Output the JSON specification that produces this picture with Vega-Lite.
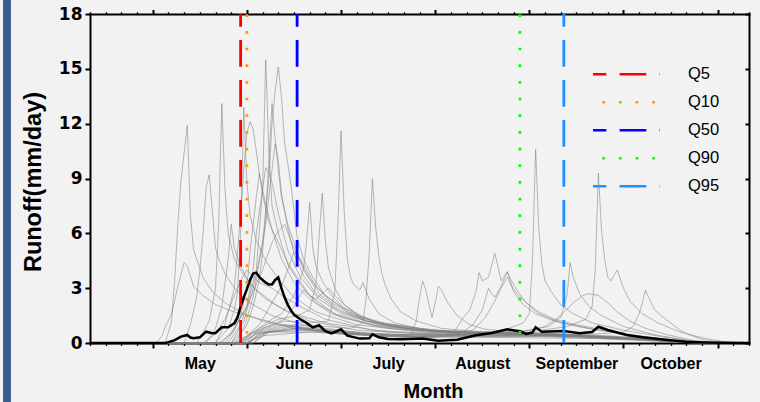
{
  "$schema": "https://vega.github.io/schema/vega-lite/v6.json",
  "width": 659,
  "height": 329,
  "autosize": {"type": "none"},
  "padding": {"left": 90, "right": 11, "top": 14, "bottom": 59},
  "background": "#f2f2f2",
  "config": {"view": {"stroke": null}, "axis": {"grid": false}},
  "datasets": {
    "runs": [
      {"member":1,"day":100,"runoff":0},{"member":1,"day":124,"runoff":0},{"member":1,"day":125,"runoff":0.6},{"member":1,"day":126,"runoff":1.2},{"member":1,"day":127,"runoff":3.5},{"member":1,"day":128,"runoff":6.5},{"member":1,"day":129,"runoff":8.9},{"member":1,"day":130,"runoff":10.4},{"member":1,"day":131,"runoff":11.9},{"member":1,"day":132,"runoff":7},{"member":1,"day":133,"runoff":5.1},{"member":1,"day":134,"runoff":4.6},{"member":1,"day":136,"runoff":3.6},{"member":1,"day":139,"runoff":2.8},{"member":1,"day":143,"runoff":2.2},{"member":1,"day":148,"runoff":1.7},{"member":1,"day":155,"runoff":1.2},{"member":1,"day":165,"runoff":0.8},{"member":1,"day":180,"runoff":0.5},{"member":1,"day":200,"runoff":0.35},{"member":1,"day":230,"runoff":0.3},{"member":1,"day":260,"runoff":0.25},{"member":1,"day":280,"runoff":0.12},{"member":1,"day":292,"runoff":0},{"member":1,"day":310,"runoff":0},
      {"member":2,"day":100,"runoff":0},{"member":2,"day":130,"runoff":0},{"member":2,"day":132,"runoff":1},{"member":2,"day":134,"runoff":2.5},{"member":2,"day":135,"runoff":4},{"member":2,"day":136,"runoff":5.9},{"member":2,"day":137,"runoff":8.5},{"member":2,"day":138,"runoff":9.2},{"member":2,"day":139,"runoff":7.2},{"member":2,"day":140,"runoff":5.2},{"member":2,"day":141,"runoff":4.6},{"member":2,"day":143,"runoff":3.8},{"member":2,"day":146,"runoff":3},{"member":2,"day":150,"runoff":2.3},{"member":2,"day":158,"runoff":1.5},{"member":2,"day":170,"runoff":0.9},{"member":2,"day":190,"runoff":0.5},{"member":2,"day":220,"runoff":0.4},{"member":2,"day":250,"runoff":0.4},{"member":2,"day":275,"runoff":0.2},{"member":2,"day":290,"runoff":0.05},{"member":2,"day":300,"runoff":0},{"member":2,"day":310,"runoff":0},
      {"member":3,"day":100,"runoff":0},{"member":3,"day":134,"runoff":0},{"member":3,"day":136,"runoff":0.6},{"member":3,"day":138,"runoff":1.2},{"member":3,"day":140,"runoff":3},{"member":3,"day":141,"runoff":6.5},{"member":3,"day":142,"runoff":13.1},{"member":3,"day":143,"runoff":8.5},{"member":3,"day":144,"runoff":6},{"member":3,"day":146,"runoff":4.6},{"member":3,"day":149,"runoff":3.7},{"member":3,"day":153,"runoff":2.9},{"member":3,"day":160,"runoff":2},{"member":3,"day":170,"runoff":1.2},{"member":3,"day":185,"runoff":0.7},{"member":3,"day":210,"runoff":0.45},{"member":3,"day":240,"runoff":0.45},{"member":3,"day":265,"runoff":0.3},{"member":3,"day":285,"runoff":0.1},{"member":3,"day":295,"runoff":0},{"member":3,"day":310,"runoff":0},
      {"member":4,"day":100,"runoff":0},{"member":4,"day":137,"runoff":0},{"member":4,"day":140,"runoff":0.8},{"member":4,"day":142,"runoff":2},{"member":4,"day":144,"runoff":4.5},{"member":4,"day":145,"runoff":6.5},{"member":4,"day":146,"runoff":5.2},{"member":4,"day":148,"runoff":4.2},{"member":4,"day":151,"runoff":3.2},{"member":4,"day":156,"runoff":2.4},{"member":4,"day":163,"runoff":1.7},{"member":4,"day":175,"runoff":1.1},{"member":4,"day":195,"runoff":0.6},{"member":4,"day":225,"runoff":0.4},{"member":4,"day":255,"runoff":0.35},{"member":4,"day":280,"runoff":0.15},{"member":4,"day":293,"runoff":0},{"member":4,"day":310,"runoff":0},
      {"member":5,"day":100,"runoff":0},{"member":5,"day":142,"runoff":0},{"member":5,"day":146,"runoff":0.8},{"member":5,"day":150,"runoff":2},{"member":5,"day":153,"runoff":4},{"member":5,"day":155,"runoff":8.5},{"member":5,"day":156,"runoff":15.5},{"member":5,"day":157,"runoff":10.5},{"member":5,"day":158,"runoff":7.5},{"member":5,"day":160,"runoff":6},{"member":5,"day":163,"runoff":4.3},{"member":5,"day":167,"runoff":3.2},{"member":5,"day":172,"runoff":2.2},{"member":5,"day":180,"runoff":1.4},{"member":5,"day":195,"runoff":0.8},{"member":5,"day":215,"runoff":0.55},{"member":5,"day":245,"runoff":0.5},{"member":5,"day":270,"runoff":0.3},{"member":5,"day":288,"runoff":0.1},{"member":5,"day":298,"runoff":0},{"member":5,"day":310,"runoff":0},
      {"member":6,"day":100,"runoff":0},{"member":6,"day":145,"runoff":0},{"member":6,"day":149,"runoff":1.2},{"member":6,"day":152,"runoff":3},{"member":6,"day":155,"runoff":5.5},{"member":6,"day":157,"runoff":9},{"member":6,"day":158,"runoff":12},{"member":6,"day":159,"runoff":13.8},{"member":6,"day":160,"runoff":15.1},{"member":6,"day":161,"runoff":13.5},{"member":6,"day":162,"runoff":11},{"member":6,"day":164,"runoff":8.7},{"member":6,"day":166,"runoff":5.8},{"member":6,"day":168,"runoff":4.6},{"member":6,"day":171,"runoff":3.6},{"member":6,"day":175,"runoff":2.6},{"member":6,"day":182,"runoff":1.7},{"member":6,"day":192,"runoff":1.1},{"member":6,"day":210,"runoff":0.7},{"member":6,"day":240,"runoff":0.55},{"member":6,"day":265,"runoff":0.4},{"member":6,"day":285,"runoff":0.15},{"member":6,"day":298,"runoff":0},{"member":6,"day":310,"runoff":0},
      {"member":7,"day":100,"runoff":0},{"member":7,"day":140,"runoff":0},{"member":7,"day":144,"runoff":0.8},{"member":7,"day":146,"runoff":1.8},{"member":7,"day":147,"runoff":2.8},{"member":7,"day":148,"runoff":6},{"member":7,"day":149,"runoff":12.9},{"member":7,"day":150,"runoff":8.8},{"member":7,"day":151,"runoff":7},{"member":7,"day":153,"runoff":5.6},{"member":7,"day":156,"runoff":4.5},{"member":7,"day":160,"runoff":3.5},{"member":7,"day":165,"runoff":2.5},{"member":7,"day":172,"runoff":1.7},{"member":7,"day":185,"runoff":1},{"member":7,"day":205,"runoff":0.6},{"member":7,"day":240,"runoff":0.45},{"member":7,"day":270,"runoff":0.25},{"member":7,"day":290,"runoff":0.05},{"member":7,"day":300,"runoff":0},{"member":7,"day":310,"runoff":0},
      {"member":8,"day":100,"runoff":0},{"member":8,"day":140,"runoff":0},{"member":8,"day":143,"runoff":1},{"member":8,"day":146,"runoff":3},{"member":8,"day":148,"runoff":7},{"member":8,"day":149,"runoff":9.5},{"member":8,"day":150,"runoff":11.5},{"member":8,"day":151,"runoff":12.1},{"member":8,"day":152,"runoff":11.7},{"member":8,"day":153,"runoff":10.5},{"member":8,"day":154,"runoff":9.2},{"member":8,"day":156,"runoff":7.6},{"member":8,"day":158,"runoff":6.2},{"member":8,"day":161,"runoff":4.6},{"member":8,"day":165,"runoff":3.3},{"member":8,"day":170,"runoff":2.4},{"member":8,"day":177,"runoff":1.6},{"member":8,"day":190,"runoff":0.95},{"member":8,"day":210,"runoff":0.55},{"member":8,"day":240,"runoff":0.5},{"member":8,"day":268,"runoff":0.3},{"member":8,"day":288,"runoff":0.08},{"member":8,"day":298,"runoff":0},{"member":8,"day":310,"runoff":0},
      {"member":9,"day":100,"runoff":0},{"member":9,"day":146,"runoff":0},{"member":9,"day":150,"runoff":1},{"member":9,"day":152,"runoff":2},{"member":9,"day":154,"runoff":3.5},{"member":9,"day":155,"runoff":5},{"member":9,"day":156,"runoff":7},{"member":9,"day":157,"runoff":10},{"member":9,"day":158,"runoff":13.1},{"member":9,"day":159,"runoff":11.2},{"member":9,"day":160,"runoff":9.5},{"member":9,"day":161,"runoff":8},{"member":9,"day":163,"runoff":6.5},{"member":9,"day":165,"runoff":5.5},{"member":9,"day":168,"runoff":4},{"member":9,"day":173,"runoff":2.7},{"member":9,"day":180,"runoff":1.7},{"member":9,"day":190,"runoff":1.1},{"member":9,"day":205,"runoff":0.7},{"member":9,"day":235,"runoff":0.5},{"member":9,"day":262,"runoff":0.35},{"member":9,"day":285,"runoff":0.12},{"member":9,"day":297,"runoff":0},{"member":9,"day":310,"runoff":0},
      {"member":10,"day":100,"runoff":0},{"member":10,"day":144,"runoff":0},{"member":10,"day":148,"runoff":1},{"member":10,"day":150,"runoff":2},{"member":10,"day":152,"runoff":4},{"member":10,"day":153,"runoff":6},{"member":10,"day":155,"runoff":8.4},{"member":10,"day":156,"runoff":9.6},{"member":10,"day":157,"runoff":9.3},{"member":10,"day":158,"runoff":8.8},{"member":10,"day":160,"runoff":7.1},{"member":10,"day":163,"runoff":5.1},{"member":10,"day":167,"runoff":3.6},{"member":10,"day":173,"runoff":2.4},{"member":10,"day":180,"runoff":1.6},{"member":10,"day":192,"runoff":1},{"member":10,"day":210,"runoff":0.6},{"member":10,"day":245,"runoff":0.45},{"member":10,"day":272,"runoff":0.25},{"member":10,"day":290,"runoff":0.05},{"member":10,"day":300,"runoff":0},{"member":10,"day":310,"runoff":0},
      {"member":11,"day":100,"runoff":0},{"member":11,"day":143,"runoff":0},{"member":11,"day":146,"runoff":0.7},{"member":11,"day":148,"runoff":1.5},{"member":11,"day":150,"runoff":3},{"member":11,"day":151,"runoff":5},{"member":11,"day":153,"runoff":8},{"member":11,"day":154,"runoff":9.3},{"member":11,"day":155,"runoff":8.1},{"member":11,"day":157,"runoff":6.6},{"member":11,"day":160,"runoff":5.5},{"member":11,"day":163,"runoff":4.4},{"member":11,"day":166,"runoff":3.6},{"member":11,"day":170,"runoff":2.6},{"member":11,"day":178,"runoff":1.6},{"member":11,"day":190,"runoff":1},{"member":11,"day":205,"runoff":0.7},{"member":11,"day":230,"runoff":0.5},{"member":11,"day":260,"runoff":0.35},{"member":11,"day":285,"runoff":0.1},{"member":11,"day":296,"runoff":0},{"member":11,"day":310,"runoff":0},
      {"member":12,"day":100,"runoff":0},{"member":12,"day":148,"runoff":0},{"member":12,"day":152,"runoff":0.6},{"member":12,"day":157,"runoff":1.2},{"member":12,"day":161,"runoff":1.6},{"member":12,"day":165,"runoff":2.6},{"member":12,"day":168,"runoff":4},{"member":12,"day":169,"runoff":5.5},{"member":12,"day":170,"runoff":7.7},{"member":12,"day":171,"runoff":5.2},{"member":12,"day":172,"runoff":4.2},{"member":12,"day":174,"runoff":3.4},{"member":12,"day":177,"runoff":2.6},{"member":12,"day":181,"runoff":1.9},{"member":12,"day":188,"runoff":1.2},{"member":12,"day":200,"runoff":0.8},{"member":12,"day":220,"runoff":0.6},{"member":12,"day":245,"runoff":0.5},{"member":12,"day":268,"runoff":0.3},{"member":12,"day":288,"runoff":0.08},{"member":12,"day":298,"runoff":0},{"member":12,"day":310,"runoff":0},
      {"member":13,"day":100,"runoff":0},{"member":13,"day":150,"runoff":0},{"member":13,"day":154,"runoff":0.8},{"member":13,"day":160,"runoff":1.3},{"member":13,"day":166,"runoff":1.5},{"member":13,"day":170,"runoff":1.8},{"member":13,"day":172,"runoff":3.2},{"member":13,"day":173,"runoff":5.8},{"member":13,"day":174,"runoff":8.2},{"member":13,"day":175,"runoff":5.6},{"member":13,"day":176,"runoff":4.1},{"member":13,"day":178,"runoff":3},{"member":13,"day":181,"runoff":2.1},{"member":13,"day":186,"runoff":1.4},{"member":13,"day":195,"runoff":0.9},{"member":13,"day":212,"runoff":0.6},{"member":13,"day":240,"runoff":0.5},{"member":13,"day":265,"runoff":0.35},{"member":13,"day":287,"runoff":0.1},{"member":13,"day":297,"runoff":0},{"member":13,"day":310,"runoff":0},
      {"member":14,"day":100,"runoff":0},{"member":14,"day":151,"runoff":0},{"member":14,"day":155,"runoff":0.8},{"member":14,"day":162,"runoff":1.2},{"member":14,"day":170,"runoff":1.1},{"member":14,"day":176,"runoff":1.2},{"member":14,"day":178,"runoff":2.8},{"member":14,"day":179,"runoff":6.5},{"member":14,"day":180,"runoff":11.6},{"member":14,"day":181,"runoff":7.2},{"member":14,"day":182,"runoff":4.6},{"member":14,"day":183,"runoff":3.6},{"member":14,"day":184,"runoff":3.2},{"member":14,"day":186,"runoff":2.9},{"member":14,"day":187,"runoff":3.3},{"member":14,"day":189,"runoff":2.4},{"member":14,"day":192,"runoff":1.6},{"member":14,"day":197,"runoff":1.1},{"member":14,"day":205,"runoff":0.8},{"member":14,"day":220,"runoff":0.55},{"member":14,"day":245,"runoff":0.45},{"member":14,"day":270,"runoff":0.3},{"member":14,"day":290,"runoff":0.06},{"member":14,"day":300,"runoff":0},{"member":14,"day":310,"runoff":0},
      {"member":15,"day":100,"runoff":0},{"member":15,"day":152,"runoff":0},{"member":15,"day":157,"runoff":0.7},{"member":15,"day":165,"runoff":1},{"member":15,"day":175,"runoff":0.9},{"member":15,"day":183,"runoff":0.8},{"member":15,"day":187,"runoff":1.1},{"member":15,"day":188,"runoff":2.5},{"member":15,"day":189,"runoff":5},{"member":15,"day":190,"runoff":9},{"member":15,"day":191,"runoff":6.4},{"member":15,"day":192,"runoff":4.8},{"member":15,"day":193,"runoff":3.8},{"member":15,"day":194,"runoff":3.2},{"member":15,"day":196,"runoff":2.4},{"member":15,"day":199,"runoff":1.7},{"member":15,"day":204,"runoff":1.2},{"member":15,"day":212,"runoff":0.8},{"member":15,"day":225,"runoff":0.6},{"member":15,"day":245,"runoff":0.5},{"member":15,"day":270,"runoff":0.3},{"member":15,"day":290,"runoff":0.06},{"member":15,"day":300,"runoff":0},{"member":15,"day":310,"runoff":0},
      {"member":16,"day":100,"runoff":0},{"member":16,"day":150,"runoff":0},{"member":16,"day":155,"runoff":0.5},{"member":16,"day":165,"runoff":0.8},{"member":16,"day":180,"runoff":0.5},{"member":16,"day":195,"runoff":0.35},{"member":16,"day":202,"runoff":0.4},{"member":16,"day":204,"runoff":1.2},{"member":16,"day":205,"runoff":2.5},{"member":16,"day":206,"runoff":3.4},{"member":16,"day":207,"runoff":2.9},{"member":16,"day":208,"runoff":2.1},{"member":16,"day":209,"runoff":1.4},{"member":16,"day":210,"runoff":2.2},{"member":16,"day":211,"runoff":3.1},{"member":16,"day":212,"runoff":2.9},{"member":16,"day":214,"runoff":2.2},{"member":16,"day":217,"runoff":1.5},{"member":16,"day":221,"runoff":1},{"member":16,"day":226,"runoff":0.75},{"member":16,"day":235,"runoff":0.6},{"member":16,"day":250,"runoff":0.5},{"member":16,"day":270,"runoff":0.3},{"member":16,"day":290,"runoff":0.06},{"member":16,"day":300,"runoff":0},{"member":16,"day":310,"runoff":0},
      {"member":17,"day":100,"runoff":0},{"member":17,"day":150,"runoff":0},{"member":17,"day":156,"runoff":0.6},{"member":17,"day":170,"runoff":0.7},{"member":17,"day":190,"runoff":0.4},{"member":17,"day":210,"runoff":0.35},{"member":17,"day":216,"runoff":0.6},{"member":17,"day":219,"runoff":1.4},{"member":17,"day":221,"runoff":1.8},{"member":17,"day":223,"runoff":2.8},{"member":17,"day":224,"runoff":3.85},{"member":17,"day":225,"runoff":3.4},{"member":17,"day":227,"runoff":3.6},{"member":17,"day":229,"runoff":4.9},{"member":17,"day":230,"runoff":4.2},{"member":17,"day":231,"runoff":3.4},{"member":17,"day":233,"runoff":3.9},{"member":17,"day":235,"runoff":2.8},{"member":17,"day":238,"runoff":2.1},{"member":17,"day":242,"runoff":1.6},{"member":17,"day":248,"runoff":1.2},{"member":17,"day":256,"runoff":0.9},{"member":17,"day":266,"runoff":0.6},{"member":17,"day":278,"runoff":0.3},{"member":17,"day":290,"runoff":0.08},{"member":17,"day":300,"runoff":0},{"member":17,"day":310,"runoff":0},
      {"member":18,"day":100,"runoff":0},{"member":18,"day":148,"runoff":0},{"member":18,"day":153,"runoff":0.5},{"member":18,"day":165,"runoff":0.9},{"member":18,"day":185,"runoff":0.5},{"member":18,"day":210,"runoff":0.3},{"member":18,"day":218,"runoff":0.5},{"member":18,"day":222,"runoff":1},{"member":18,"day":225,"runoff":1.8},{"member":18,"day":227,"runoff":3},{"member":18,"day":228,"runoff":2.7},{"member":18,"day":229,"runoff":2.5},{"member":18,"day":231,"runoff":3.1},{"member":18,"day":233,"runoff":3.9},{"member":18,"day":234,"runoff":3.5},{"member":18,"day":236,"runoff":2.9},{"member":18,"day":239,"runoff":2.2},{"member":18,"day":243,"runoff":1.6},{"member":18,"day":250,"runoff":1.1},{"member":18,"day":260,"runoff":0.75},{"member":18,"day":272,"runoff":0.45},{"member":18,"day":285,"runoff":0.15},{"member":18,"day":296,"runoff":0},{"member":18,"day":310,"runoff":0},
      {"member":19,"day":100,"runoff":0},{"member":19,"day":150,"runoff":0},{"member":19,"day":155,"runoff":0.6},{"member":19,"day":170,"runoff":0.8},{"member":19,"day":195,"runoff":0.45},{"member":19,"day":220,"runoff":0.45},{"member":19,"day":232,"runoff":0.7},{"member":19,"day":238,"runoff":1.1},{"member":19,"day":240,"runoff":1.6},{"member":19,"day":241,"runoff":4.5},{"member":19,"day":242,"runoff":10.6},{"member":19,"day":243,"runoff":6.3},{"member":19,"day":244,"runoff":4.3},{"member":19,"day":245,"runoff":3.4},{"member":19,"day":247,"runoff":2.8},{"member":19,"day":250,"runoff":2.1},{"member":19,"day":254,"runoff":1.6},{"member":19,"day":260,"runoff":1.1},{"member":19,"day":270,"runoff":0.7},{"member":19,"day":282,"runoff":0.35},{"member":19,"day":294,"runoff":0.05},{"member":19,"day":302,"runoff":0},{"member":19,"day":310,"runoff":0},
      {"member":20,"day":100,"runoff":0},{"member":20,"day":148,"runoff":0},{"member":20,"day":152,"runoff":0.5},{"member":20,"day":162,"runoff":1},{"member":20,"day":180,"runoff":0.6},{"member":20,"day":210,"runoff":0.4},{"member":20,"day":240,"runoff":0.6},{"member":20,"day":252,"runoff":0.9},{"member":20,"day":258,"runoff":1.3},{"member":20,"day":260,"runoff":2},{"member":20,"day":261,"runoff":4},{"member":20,"day":262,"runoff":9.3},{"member":20,"day":263,"runoff":6.2},{"member":20,"day":264,"runoff":4.6},{"member":20,"day":265,"runoff":3.6},{"member":20,"day":266,"runoff":3.4},{"member":20,"day":268,"runoff":4},{"member":20,"day":270,"runoff":3},{"member":20,"day":272,"runoff":2.3},{"member":20,"day":276,"runoff":1.6},{"member":20,"day":281,"runoff":1.1},{"member":20,"day":288,"runoff":0.6},{"member":20,"day":296,"runoff":0.25},{"member":20,"day":303,"runoff":0.05},{"member":20,"day":310,"runoff":0},
      {"member":21,"day":100,"runoff":0},{"member":21,"day":149,"runoff":0},{"member":21,"day":153,"runoff":0.5},{"member":21,"day":165,"runoff":0.8},{"member":21,"day":190,"runoff":0.45},{"member":21,"day":225,"runoff":0.5},{"member":21,"day":240,"runoff":0.7},{"member":21,"day":246,"runoff":0.9},{"member":21,"day":250,"runoff":1.4},{"member":21,"day":252,"runoff":2.6},{"member":21,"day":253,"runoff":4.4},{"member":21,"day":254,"runoff":3.6},{"member":21,"day":256,"runoff":2.7},{"member":21,"day":259,"runoff":2},{"member":21,"day":263,"runoff":1.5},{"member":21,"day":270,"runoff":0.9},{"member":21,"day":280,"runoff":0.45},{"member":21,"day":292,"runoff":0.1},{"member":21,"day":300,"runoff":0},{"member":21,"day":310,"runoff":0},
      {"member":22,"day":100,"runoff":0},{"member":22,"day":150,"runoff":0},{"member":22,"day":155,"runoff":0.4},{"member":22,"day":170,"runoff":0.6},{"member":22,"day":200,"runoff":0.3},{"member":22,"day":240,"runoff":0.4},{"member":22,"day":262,"runoff":0.5},{"member":22,"day":270,"runoff":0.6},{"member":22,"day":273,"runoff":0.9},{"member":22,"day":275,"runoff":1.6},{"member":22,"day":276,"runoff":2.2},{"member":22,"day":277,"runoff":2.9},{"member":22,"day":278,"runoff":2.5},{"member":22,"day":280,"runoff":1.8},{"member":22,"day":282,"runoff":1.5},{"member":22,"day":285,"runoff":1.1},{"member":22,"day":288,"runoff":0.7},{"member":22,"day":291,"runoff":0.45},{"member":22,"day":295,"runoff":0.2},{"member":22,"day":300,"runoff":0.05},{"member":22,"day":305,"runoff":0},{"member":22,"day":310,"runoff":0},
      {"member":23,"day":100,"runoff":0},{"member":23,"day":152,"runoff":0},{"member":23,"day":157,"runoff":0.6},{"member":23,"day":175,"runoff":0.6},{"member":23,"day":205,"runoff":0.35},{"member":23,"day":235,"runoff":0.5},{"member":23,"day":245,"runoff":0.9},{"member":23,"day":250,"runoff":1.5},{"member":23,"day":254,"runoff":2.2},{"member":23,"day":257,"runoff":2.6},{"member":23,"day":259,"runoff":2.7},{"member":23,"day":262,"runoff":2.6},{"member":23,"day":265,"runoff":2.2},{"member":23,"day":268,"runoff":1.7},{"member":23,"day":272,"runoff":1.2},{"member":23,"day":277,"runoff":0.8},{"member":23,"day":284,"runoff":0.45},{"member":23,"day":292,"runoff":0.15},{"member":23,"day":300,"runoff":0},{"member":23,"day":310,"runoff":0},
      {"member":24,"day":100,"runoff":0},{"member":24,"day":121,"runoff":0},{"member":24,"day":123,"runoff":0.4},{"member":24,"day":124,"runoff":0.9},{"member":24,"day":126,"runoff":1.6},{"member":24,"day":128,"runoff":3.1},{"member":24,"day":130,"runoff":4.4},{"member":24,"day":131,"runoff":4.2},{"member":24,"day":133,"runoff":3.1},{"member":24,"day":136,"runoff":2.6},{"member":24,"day":140,"runoff":2.1},{"member":24,"day":146,"runoff":1.7},{"member":24,"day":152,"runoff":1.4},{"member":24,"day":160,"runoff":1.05},{"member":24,"day":172,"runoff":0.7},{"member":24,"day":190,"runoff":0.45},{"member":24,"day":215,"runoff":0.35},{"member":24,"day":245,"runoff":0.35},{"member":24,"day":270,"runoff":0.2},{"member":24,"day":286,"runoff":0.05},{"member":24,"day":295,"runoff":0},{"member":24,"day":310,"runoff":0},
      {"member":25,"day":100,"runoff":0},{"member":25,"day":147,"runoff":0},{"member":25,"day":151,"runoff":0.5},{"member":25,"day":160,"runoff":1},{"member":25,"day":175,"runoff":0.6},{"member":25,"day":200,"runoff":0.35},{"member":25,"day":215,"runoff":0.45},{"member":25,"day":222,"runoff":0.7},{"member":25,"day":226,"runoff":1.4},{"member":25,"day":229,"runoff":2.3},{"member":25,"day":231,"runoff":3},{"member":25,"day":233,"runoff":3.6},{"member":25,"day":234,"runoff":3.2},{"member":25,"day":236,"runoff":2.7},{"member":25,"day":239,"runoff":2.2},{"member":25,"day":243,"runoff":1.7},{"member":25,"day":248,"runoff":1.3},{"member":25,"day":255,"runoff":1},{"member":25,"day":264,"runoff":0.7},{"member":25,"day":275,"runoff":0.4},{"member":25,"day":288,"runoff":0.12},{"member":25,"day":297,"runoff":0},{"member":25,"day":310,"runoff":0},
      {"member":26,"day":100,"runoff":0},{"member":26,"day":141,"runoff":0},{"member":26,"day":145,"runoff":0.5},{"member":26,"day":150,"runoff":2},{"member":26,"day":153,"runoff":3.2},{"member":26,"day":155,"runoff":4},{"member":26,"day":158,"runoff":5.5},{"member":26,"day":160,"runoff":6.1},{"member":26,"day":162,"runoff":6.5},{"member":26,"day":164,"runoff":5.6},{"member":26,"day":166,"runoff":4.8},{"member":26,"day":170,"runoff":3.5},{"member":26,"day":175,"runoff":2.6},{"member":26,"day":180,"runoff":2},{"member":26,"day":190,"runoff":1.2},{"member":26,"day":210,"runoff":0.65},{"member":26,"day":240,"runoff":0.45},{"member":26,"day":270,"runoff":0.25},{"member":26,"day":290,"runoff":0.05},{"member":26,"day":300,"runoff":0},{"member":26,"day":310,"runoff":0},
      {"member":27,"day":100,"runoff":0},{"member":27,"day":146,"runoff":0},{"member":27,"day":150,"runoff":0.4},{"member":27,"day":154,"runoff":1},{"member":27,"day":158,"runoff":2.2},{"member":27,"day":161,"runoff":3.1},{"member":27,"day":163,"runoff":4},{"member":27,"day":165,"runoff":5},{"member":27,"day":167,"runoff":4.6},{"member":27,"day":169,"runoff":4},{"member":27,"day":172,"runoff":3.1},{"member":27,"day":177,"runoff":2.2},{"member":27,"day":184,"runoff":1.5},{"member":27,"day":195,"runoff":1},{"member":27,"day":215,"runoff":0.55},{"member":27,"day":245,"runoff":0.45},{"member":27,"day":272,"runoff":0.25},{"member":27,"day":290,"runoff":0.05},{"member":27,"day":300,"runoff":0},{"member":27,"day":310,"runoff":0},
      {"member":28,"day":100,"runoff":0},{"member":28,"day":136,"runoff":0},{"member":28,"day":140,"runoff":0.5},{"member":28,"day":143,"runoff":1.3},{"member":28,"day":146,"runoff":2.6},{"member":28,"day":148,"runoff":3.4},{"member":28,"day":150,"runoff":4},{"member":28,"day":152,"runoff":3.6},{"member":28,"day":154,"runoff":3.3},{"member":28,"day":158,"runoff":3},{"member":28,"day":162,"runoff":2.5},{"member":28,"day":167,"runoff":2},{"member":28,"day":175,"runoff":1.3},{"member":28,"day":190,"runoff":0.7},{"member":28,"day":215,"runoff":0.45},{"member":28,"day":245,"runoff":0.4},{"member":28,"day":272,"runoff":0.2},{"member":28,"day":290,"runoff":0.04},{"member":28,"day":300,"runoff":0},{"member":28,"day":310,"runoff":0},
      {"member":29,"day":100,"runoff":0},{"member":29,"day":147,"runoff":0},{"member":29,"day":152,"runoff":0.6},{"member":29,"day":158,"runoff":1},{"member":29,"day":162,"runoff":1.3},{"member":29,"day":165,"runoff":2},{"member":29,"day":168,"runoff":2.9},{"member":29,"day":170,"runoff":2.6},{"member":29,"day":172,"runoff":2.4},{"member":29,"day":174,"runoff":2.7},{"member":29,"day":176,"runoff":3},{"member":29,"day":178,"runoff":2.6},{"member":29,"day":181,"runoff":2.1},{"member":29,"day":186,"runoff":1.5},{"member":29,"day":195,"runoff":1},{"member":29,"day":210,"runoff":0.65},{"member":29,"day":235,"runoff":0.5},{"member":29,"day":262,"runoff":0.35},{"member":29,"day":285,"runoff":0.1},{"member":29,"day":296,"runoff":0},{"member":29,"day":310,"runoff":0},
      {"member":30,"day":100,"runoff":0},{"member":30,"day":145,"runoff":0},{"member":30,"day":149,"runoff":0.8},{"member":30,"day":152,"runoff":2.5},{"member":30,"day":154,"runoff":4.5},{"member":30,"day":156,"runoff":6.5},{"member":30,"day":157,"runoff":8},{"member":30,"day":158,"runoff":9.5},{"member":30,"day":159,"runoff":10.9},{"member":30,"day":160,"runoff":10},{"member":30,"day":161,"runoff":8.2},{"member":30,"day":163,"runoff":6.3},{"member":30,"day":165,"runoff":4.9},{"member":30,"day":168,"runoff":3.7},{"member":30,"day":172,"runoff":2.7},{"member":30,"day":178,"runoff":1.9},{"member":30,"day":188,"runoff":1.2},{"member":30,"day":205,"runoff":0.7},{"member":30,"day":235,"runoff":0.5},{"member":30,"day":262,"runoff":0.35},{"member":30,"day":284,"runoff":0.12},{"member":30,"day":296,"runoff":0},{"member":30,"day":310,"runoff":0}
    ],
    "mean": [
      {"day":100,"runoff":0},{"day":124,"runoff":0},{"day":125,"runoff":0.05},{"day":127,"runoff":0.16},{"day":129,"runoff":0.35},{"day":131,"runoff":0.44},{"day":132,"runoff":0.3},{"day":133,"runoff":0.26},{"day":135,"runoff":0.31},{"day":137,"runoff":0.62},{"day":139,"runoff":0.53},{"day":140,"runoff":0.55},{"day":142,"runoff":0.86},{"day":144,"runoff":0.86},{"day":146,"runoff":1.08},{"day":147,"runoff":1.4},{"day":148,"runoff":1.99},{"day":149,"runoff":2.5},{"day":150,"runoff":2.95},{"day":151,"runoff":3.45},{"day":152,"runoff":3.8},{"day":153,"runoff":3.85},{"day":154,"runoff":3.6},{"day":155,"runoff":3.45},{"day":156,"runoff":3.3},{"day":157,"runoff":3.2},{"day":158,"runoff":3.2},{"day":159,"runoff":3.45},{"day":160,"runoff":3.59},{"day":161,"runoff":3.0},{"day":162,"runoff":2.5},{"day":163,"runoff":2.1},{"day":164,"runoff":1.8},{"day":165,"runoff":1.55},{"day":167,"runoff":1.3},{"day":169,"runoff":1.1},{"day":171,"runoff":0.85},{"day":173,"runoff":0.97},{"day":175,"runoff":0.65},{"day":177,"runoff":0.53},{"day":180,"runoff":0.75},{"day":182,"runoff":0.4},{"day":186,"runoff":0.24},{"day":189,"runoff":0.26},{"day":190,"runoff":0.48},{"day":192,"runoff":0.31},{"day":195,"runoff":0.22},{"day":199,"runoff":0.2},{"day":206,"runoff":0.24},{"day":211,"runoff":0.13},{"day":217,"runoff":0.18},{"day":223,"runoff":0.42},{"day":228,"runoff":0.55},{"day":233,"runoff":0.75},{"day":237,"runoff":0.64},{"day":239,"runoff":0.5},{"day":241,"runoff":0.58},{"day":242,"runoff":0.86},{"day":244,"runoff":0.62},{"day":251,"runoff":0.66},{"day":256,"runoff":0.53},{"day":260,"runoff":0.6},{"day":262,"runoff":0.89},{"day":265,"runoff":0.71},{"day":271,"runoff":0.44},{"day":276,"runoff":0.31},{"day":284,"runoff":0.16},{"day":290,"runoff":0.07},{"day":296,"runoff":0.03},{"day":302,"runoff":0.01},{"day":310,"runoff":0}
    ],
    "quantiles": [
      {"quantile":"Q5","day":148},
      {"quantile":"Q10","day":150},
      {"quantile":"Q50","day":166},
      {"quantile":"Q90","day":237},
      {"quantile":"Q95","day":251}
    ]
  },
  "resolve": {"axis": {"x": "independent", "y": "independent"}},
  "layer": [
    {
      "data": {"values": [{"edge": "left"}]},
      "mark": {"type": "rect", "color": "#3b5d8b", "clip": false},
      "encoding": {
        "x": {"datum": 72.3, "type": "quantitative", "scale": {"domain": [100, 310], "nice": false, "zero": false}, "axis": null},
        "x2": {"datum": 74.8},
        "y": {"datum": -3.3, "type": "quantitative", "scale": {"domain": [0, 18], "nice": false, "zero": false}, "axis": null},
        "y2": {"datum": 18.8}
      }
    },
    {
      "data": {"name": "runs"},
      "mark": {"type": "line", "stroke": "#808080", "strokeWidth": 1, "opacity": 0.55},
      "encoding": {
        "detail": {"field": "member", "type": "nominal"},
        "x": {
          "field": "day", "type": "quantitative",
          "scale": {"domain": [100, 310], "nice": false, "zero": false},
          "axis": {
            "orient": "bottom",
            "values": [100,105,110,115,120,125,130,135,140,145,150,155,160,165,170,175,180,185,190,195,200,205,210,215,220,225,230,235,240,245,250,255,260,265,270,275,280,285,290,295,300,305,310],
            "domainColor": "#000", "domainWidth": 2, "domainCap": "square",
            "tickColor": "#000",
            "tickSize": {"condition": {"test": "datum.value % 30 === 0", "value": 5}, "value": 2.5},
            "tickWidth": {"condition": {"test": "datum.value % 30 === 0", "value": 2}, "value": 1.3},
            "labelExpr": "datum.value === 135 ? 'May' : datum.value === 165 ? 'June' : datum.value === 195 ? 'July' : datum.value === 225 ? 'August' : datum.value === 255 ? 'September' : datum.value === 285 ? 'October' : ''",
            "labelFont": "Liberation Sans", "labelFontWeight": "bold", "labelFontSize": 16, "labelColor": "#000",
            "labelBaseline": "alphabetic", "labelPadding": 22.5,
            "labelOverlap": false, "labelFlush": false, "labelBound": false,
            "title": "Month",
            "titleFont": "Liberation Sans", "titleFontWeight": "bold", "titleFontSize": 20, "titleColor": "#000",
            "titleX": 343, "titleY": 58.5, "titleAlign": "center", "titleBaseline": "bottom"
          }
        },
        "y": {
          "field": "runoff", "type": "quantitative",
          "scale": {"domain": [0, 18], "nice": false, "zero": false},
          "axis": {
            "orient": "left",
            "values": [0, 3, 6, 9, 12, 15, 18],
            "domainColor": "#000", "domainWidth": 2, "domainCap": "square",
            "tickColor": "#000", "tickSize": 5, "tickWidth": 2,
            "labelFont": "DejaVu Sans", "labelFontWeight": "bold", "labelFontSize": 17, "labelColor": "#000",
            "labelPadding": 3, "labelOverlap": false, "labelFlush": false, "labelBound": false,
            "title": "Runoff(mm/day)",
            "titleFont": "Liberation Sans", "titleFontWeight": "bold", "titleFontSize": 23.5, "titleColor": "#000",
            "titleAngle": 270, "titleX": -50, "titleY": 167.5, "titleAlign": "center", "titleBaseline": "alphabetic"
          }
        }
      }
    },
    {
      "data": {"name": "mean"},
      "mark": {"type": "line", "color": "#000", "strokeWidth": 2.5},
      "encoding": {
        "x": {
          "field": "day", "type": "quantitative",
          "scale": {"domain": [100, 310], "nice": false, "zero": false},
          "axis": {
            "orient": "top",
            "values": [100,105,110,115,120,125,130,135,140,145,150,155,160,165,170,175,180,185,190,195,200,205,210,215,220,225,230,235,240,245,250,255,260,265,270,275,280,285,290,295,300,305,310],
            "domainColor": "#000", "domainWidth": 2, "domainCap": "square",
            "tickColor": "#000",
            "tickSize": {"condition": {"test": "datum.value % 30 === 0", "value": 4.5}, "value": 2.3},
            "tickWidth": {"condition": {"test": "datum.value % 30 === 0", "value": 2}, "value": 1.3},
            "labels": false, "title": null
          }
        },
        "y": {
          "field": "runoff", "type": "quantitative",
          "scale": {"domain": [0, 18], "nice": false, "zero": false},
          "axis": {
            "orient": "right",
            "values": [0, 3, 6, 9, 12, 15, 18],
            "domainColor": "#000", "domainWidth": 2, "domainCap": "square",
            "tickColor": "#000", "tickSize": -4, "tickWidth": 2,
            "labels": false, "title": null
          }
        }
      }
    },
    {
      "data": {"name": "quantiles"},
      "mark": {"type": "rule", "strokeWidth": 2.8, "strokeCap": "butt"},
      "encoding": {
        "x": {"field": "day", "type": "quantitative", "scale": {"domain": [100, 310], "nice": false, "zero": false}, "axis": null},
        "y": {"datum": 0, "type": "quantitative", "scale": {"domain": [0, 18], "nice": false, "zero": false}, "axis": null},
        "y2": {"datum": 18},
        "color": {
          "field": "quantile", "type": "nominal",
          "scale": {"domain": ["Q5", "Q10", "Q50", "Q90", "Q95"], "range": ["#ff0000", "#ff9900", "#0000ff", "#00ff00", "#1e90ff"]},
          "legend": {
            "title": null, "orient": "none", "legendX": 501.5, "legendY": 46.5, "direction": "vertical",
            "symbolType": "stroke", "symbolSize": 4489, "symbolStrokeWidth": 2.5,
            "clipHeight": 27.5, "rowPadding": 0, "padding": 0, "labelOffset": 26.5,
            "labelFont": "Liberation Sans", "labelFontSize": 16.5, "labelColor": "#000", "labelLimit": 0,
            "encode": {"symbols": {"update": {
              "strokeDash": {"signal": "datum.value === 'Q10' || datum.value === 'Q90' ? [2.2, 10.6] : [20.7, 10]"},
              "strokeDashOffset": {"signal": "datum.value === 'Q10' || datum.value === 'Q90' ? 0 : 9.7"}
            }}}
          }
        },
        "strokeDash": {
          "field": "quantile", "type": "nominal",
          "scale": {
            "domain": ["Q5", "Q10", "Q50", "Q90", "Q95"],
            "range": [
              [23,13.3,26.7,13.3,26.7,13.3,26.7,13.3,26.7,13.3,26.7,13.3,26.7,13.3,26.7,13.3,26.7,13.3],
              [0,9.25,2.7,13.97,2.7,13.97,2.7,13.97,2.7,13.97,2.7,13.97,2.7,13.97,2.7,13.97,2.7,13.97,2.7,13.97,2.7,13.97,2.7,13.97,2.7,13.97,2.7,13.97,2.7,13.97,2.7,13.97,2.7,13.97,2.7,13.97,2.7,13.97,2.7,13.97,2.7,13.97],
              [23,13.3,26.7,13.3,26.7,13.3,26.7,13.3,26.7,13.3,26.7,13.3,26.7,13.3,26.7,13.3,26.7,13.3],
              [0,9.25,2.7,13.97,2.7,13.97,2.7,13.97,2.7,13.97,2.7,13.97,2.7,13.97,2.7,13.97,2.7,13.97,2.7,13.97,2.7,13.97,2.7,13.97,2.7,13.97,2.7,13.97,2.7,13.97,2.7,13.97,2.7,13.97,2.7,13.97,2.7,13.97,2.7,13.97,2.7,13.97],
              [23,13.3,26.7,13.3,26.7,13.3,26.7,13.3,26.7,13.3,26.7,13.3,26.7,13.3,26.7,13.3,26.7,13.3]
            ]
          },
          "legend": {
            "title": null, "orient": "none", "legendX": 501.5, "legendY": 46.5, "direction": "vertical",
            "symbolType": "stroke", "symbolSize": 4489, "symbolStrokeWidth": 2.5,
            "clipHeight": 27.5, "rowPadding": 0, "padding": 0, "labelOffset": 26.5,
            "labelFont": "Liberation Sans", "labelFontSize": 16.5, "labelColor": "#000", "labelLimit": 0,
            "encode": {"symbols": {"update": {
              "strokeDash": {"signal": "datum.value === 'Q10' || datum.value === 'Q90' ? [2.2, 10.6] : [20.7, 10]"},
              "strokeDashOffset": {"signal": "datum.value === 'Q10' || datum.value === 'Q90' ? 0 : 9.7"}
            }}}
          }
        }
      }
    }
  ]
}
